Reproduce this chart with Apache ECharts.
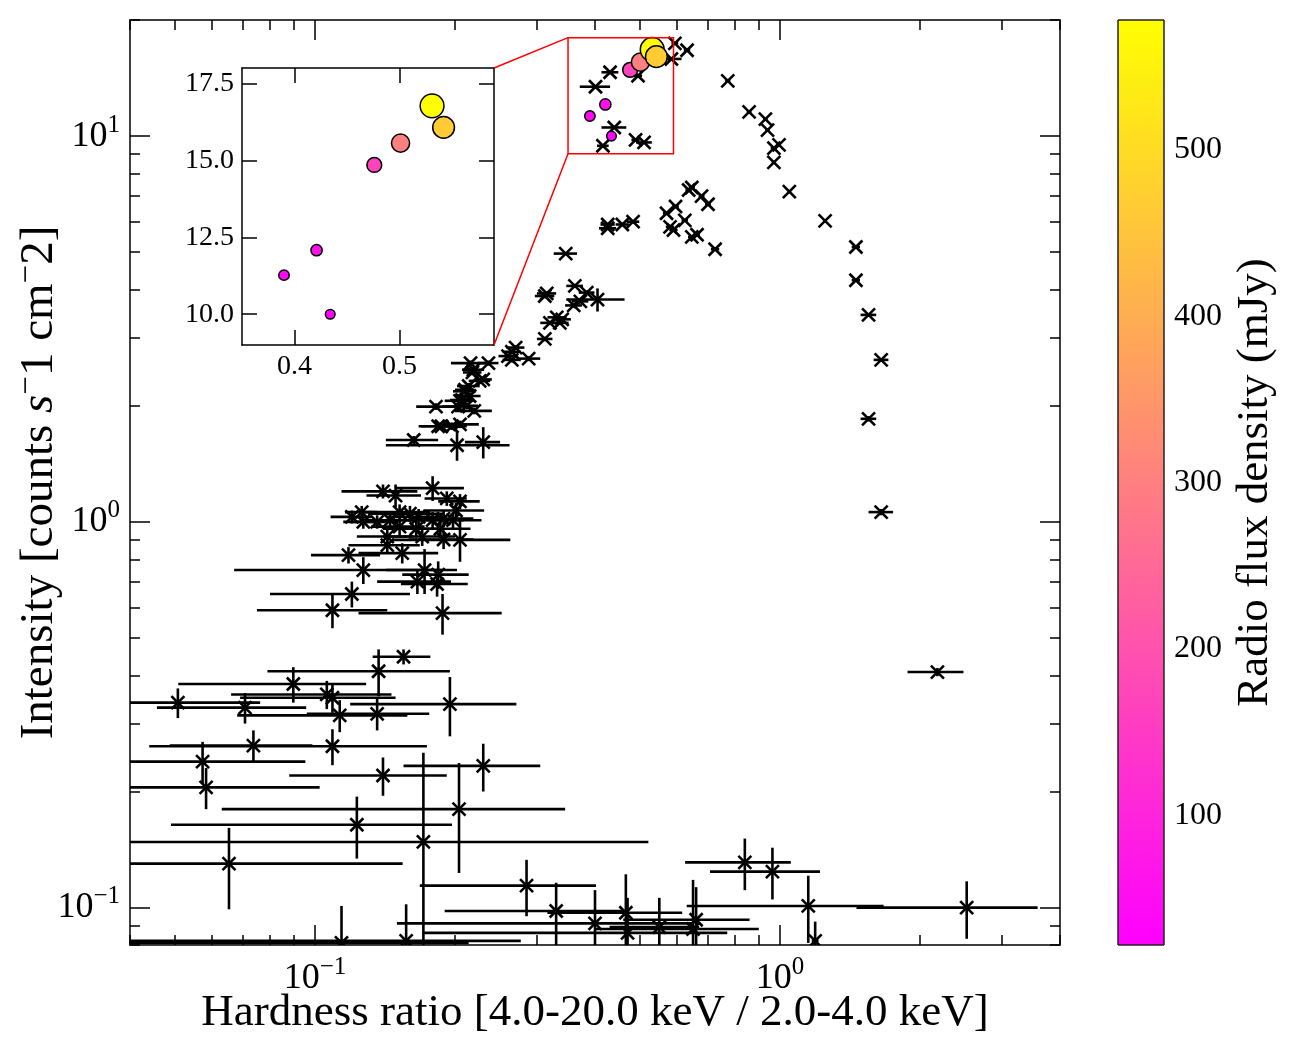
<!DOCTYPE html>
<html>
<head>
<meta charset="utf-8">
<title>Hardness-intensity diagram</title>
<script src="https://cdn.jsdelivr.net/npm/echarts@6/dist/echarts.min.js"></script>
<style>
  html, body { margin: 0; padding: 0; background: #fff; }
  #chart { width: 1291px; height: 1048px; }
</style>
</head>
<body>
<div id="chart"></div>
<script>
// X-ray monitoring points: hardness ratio, intensity and their errors
const xrayHardness = [
  // upper branch
  0.594, 0.631, 0.584, 0.772, 0.858, 0.930, 0.940, 0.970, 0.995, 0.970, 1.047, 1.250, 1.456, 1.456, 1.550, 1.650, 1.550, 1.650, 2.180,
  // zoomed region
  0.431, 0.401, 0.495, 0.440, 0.416, 0.489, 0.510,
  // 5 - 7.5
  0.646, 0.636, 0.678, 0.700, 0.596, 0.570, 0.624, 0.580, 0.590, 0.646, 0.663, 0.725, 0.426, 0.426, 0.458, 0.483,
  // 3 - 5
  0.346, 0.362, 0.384, 0.372, 0.360, 0.405, 0.340, 0.315, 0.312, 0.331, 0.336, 0.320, 0.312,
  // 1.5 - 3
  0.270, 0.265, 0.260, 0.288, 0.236, 0.216, 0.230, 0.219, 0.214, 0.210, 0.215, 0.205, 0.220, 0.182, 0.203, 0.187, 0.197, 0.205, 0.163, 0.202, 0.230, 0.218, 0.226, 0.210, 0.207, 0.212, 0.184, 0.265,
  // 0.6 - 1.2
  0.179, 0.140, 0.149, 0.192, 0.205, 0.126, 0.120, 0.127, 0.136, 0.145, 0.152, 0.160, 0.167, 0.179, 0.189, 0.198, 0.201, 0.152, 0.165, 0.186, 0.143, 0.170, 0.189, 0.205, 0.143, 0.118, 0.154, 0.127, 0.172, 0.166, 0.184, 0.183, 0.120, 0.109, 0.188,
  // faint states
  0.155, 0.137, 0.0898, 0.106, 0.109, 0.0507, 0.0707, 0.113, 0.136, 0.195, 0.0737, 0.109, 0.0573, 0.0583, 0.140, 0.230, 0.204, 0.123, 0.171, 0.0653, 0.285, 0.330, 0.466, 0.550, 0.660, 0.650, 0.840, 0.963, 1.150, 2.520, 0.114, 0.157, 1.190, 0.470, 0.400
]
const xrayIntensity = [
  17.4, 16.7, 15.85, 13.9, 11.56, 11.07, 10.36, 9.31, 9.49, 8.55, 7.18, 6.03, 5.16, 4.23, 3.44, 2.63, 1.85, 1.06, 0.408,
  14.64, 13.43, 14.34, 10.53, 9.44, 9.78, 9.63,
  7.36, 7.25, 6.99, 6.66, 6.57, 6.31, 6.05, 5.82, 5.71, 5.48, 5.55, 5.09, 5.77, 5.90, 5.90, 6.00,
  4.96, 4.09, 3.93, 3.73, 3.64, 3.77, 3.35, 3.91, 3.85, 3.39, 3.28, 3.28, 2.98,
  2.83, 2.76, 2.69, 2.65, 2.58, 2.58, 2.34, 2.48, 2.25, 2.18, 2.12, 2.06, 1.94, 1.99, 1.99, 1.77, 1.77, 1.79, 1.63, 1.58, 1.61, 2.44, 2.32, 2.20, 2.07, 2.00, 1.77, 2.63,
  1.223, 1.20, 1.17, 1.15, 1.13, 1.06, 1.03, 1.00, 1.00, 1.01, 1.06, 1.05, 1.03, 1.01, 1.02, 1.01, 1.07, 0.972, 0.96, 0.96, 0.916, 0.916, 0.90, 0.898, 0.87, 0.82, 0.83, 0.75, 0.75, 0.70, 0.73, 0.69, 0.65, 0.59, 0.58,
  0.447, 0.41, 0.38, 0.357, 0.35, 0.34, 0.33, 0.315, 0.318, 0.337, 0.263, 0.262, 0.239, 0.205, 0.22, 0.233, 0.18, 0.164, 0.148, 0.13, 0.114, 0.098, 0.097, 0.089, 0.093, 0.088, 0.131, 0.124, 0.101, 0.100, 0.081, 0.082, 0.082, 0.086, 0.091
]
const xrayHardnessErr = [
  0.010, 0.010, 0.030, 0.010, 0.010, 0.010, 0.010, 0.015, 0.010, 0.010, 0.010, 0.010, 0.030, 0.030, 0.060, 0.060, 0.060, 0.100, 0.300,
  0.018, 0.030, 0.010, 0.027, 0.012, 0.010, 0.020,
  0.010, 0.010, 0.010, 0.010, 0.010, 0.010, 0.010, 0.012, 0.012, 0.012, 0.010, 0.015, 0.018, 0.015, 0.015, 0.015,
  0.020, 0.015, 0.015, 0.015, 0.015, 0.058, 0.015, 0.015, 0.015, 0.015, 0.015, 0.015, 0.012,
  0.012, 0.012, 0.012, 0.017, 0.012, 0.020, 0.010, 0.012, 0.012, 0.012, 0.012, 0.015, 0.020, 0.017, 0.015, 0.020, 0.015, 0.020, 0.021, 0.060, 0.020, 0.010, 0.012, 0.010, 0.012, 0.012, 0.015, 0.012,
  0.030, 0.026, 0.020, 0.020, 0.021, 0.010, 0.012, 0.012, 0.015, 0.020, 0.025, 0.030, 0.025, 0.030, 0.030, 0.030, 0.030, 0.020, 0.025, 0.030, 0.020, 0.030, 0.030, 0.058, 0.025, 0.020, 0.030, 0.060, 0.030, 0.030, 0.030, 0.030, 0.040, 0.034, 0.064,
  0.022, 0.058, 0.039, 0.040, 0.040, 0.0255, 0.025, 0.045, 0.040, 0.076, 0.025, 0.065, 0.038, 0.044, 0.052, 0.075, 0.141, 0.074, 0.35, 0.089, 0.117, 0.14, 0.15, 0.12, 0.20, 0.25, 0.215, 0.256, 0.52, 1.06, 0.10, 0.12, 0.02, 0.30, 0.25
]
const xrayIntensityErr = [
  0.15, 0.15, 0.15, 0.12, 0.10, 0.10, 0.10, 0.09, 0.09, 0.08, 0.07, 0.06, 0.05, 0.04, 0.04, 0.03, 0.03, 0.02, 0.01,
  0.12, 0.12, 0.12, 0.10, 0.10, 0.10, 0.10,
  0.08, 0.08, 0.07, 0.07, 0.07, 0.07, 0.06, 0.06, 0.06, 0.06, 0.06, 0.05, 0.06, 0.06, 0.06, 0.06,
  0.05, 0.05, 0.05, 0.05, 0.05, 0.26, 0.04, 0.05, 0.05, 0.04, 0.04, 0.04, 0.04,
  0.04, 0.04, 0.04, 0.04, 0.04, 0.04, 0.04, 0.04, 0.04, 0.04, 0.04, 0.04, 0.04, 0.04, 0.04, 0.04, 0.04, 0.04, 0.04, 0.14, 0.15, 0.04, 0.04, 0.04, 0.04, 0.04, 0.04, 0.04,
  0.09, 0.05, 0.08, 0.05, 0.05, 0.04, 0.04, 0.04, 0.04, 0.05, 0.05, 0.05, 0.05, 0.05, 0.05, 0.05, 0.05, 0.05, 0.05, 0.05, 0.05, 0.05, 0.05, 0.11, 0.04, 0.04, 0.05, 0.06, 0.10, 0.05, 0.06, 0.05, 0.05, 0.06, 0.07,
  0.02, 0.057, 0.04, 0.03, 0.03, 0.03, 0.03, 0.03, 0.03, 0.059, 0.025, 0.028, 0.03, 0.025, 0.025, 0.033, 0.057, 0.03, 0.104, 0.031, 0.019, 0.018, 0.025, 0.017, 0.02, 0.03, 0.02, 0.019, 0.02, 0.017, 0.02, 0.02, 0.01, 0.02, 0.02
]

// simultaneous radio detections
const radioHardness = [0.390, 0.421, 0.434, 0.476, 0.501, 0.531, 0.542]
const radioIntensity = [11.27, 12.08, 10.0, 14.85, 15.56, 16.77, 16.07]
const radioFlux = [40, 60, 22, 170, 300, 578, 467]

// axes
const xRange = [0.04, 4]
const yRange = [0.08, 20]
const xMajor = [0.1, 1]
const yMajor = [0.1, 1, 10]
const zoomX = [0.35, 0.59]
const zoomY = [9, 18]
const zoomXTicks = [0.4, 0.5]
const zoomYTicks = [10, 12.5, 15, 17.5]
const fluxRange = [22, 578]
const fluxTicks = [100, 200, 300, 400, 500]

const FONT = '"Liberation Serif", "Times New Roman", serif'
const INK = '#000'
const MAJOR = 20
const MINOR = 10

function minorTicks (range) {
  const out = []
  for (let d = -3; d <= 3; d++) {
    for (let k = 2; k <= 9; k++) {
      const v = Number((k * Math.pow(10, d)).toPrecision(3))
      if (v >= range[0] && v <= range[1]) out.push(v)
    }
  }
  return out
}

function powerLabel (v) {
  const p = Math.round(Math.log10(v))
  return '{b|10}{s|' + (p < 0 ? '\u2212' + (-p) : p) + '}'
}

const powerRich = {
  b: { fontFamily: FONT, fontSize: 36, color: INK },
  s: { fontFamily: FONT, fontSize: 25, color: INK, padding: [0, 0, 22, 0] }
}
const tickLine = { color: INK, width: 1.5 }

function mainAxis (position, range, ticks, len, withLabel) {
  return {
    type: 'log',
    logBase: 10,
    gridIndex: 0,
    position,
    min: range[0],
    max: range[1],
    axisLine: { show: len === MAJOR, onZero: false, lineStyle: tickLine },
    axisTick: { show: true, inside: true, length: len, customValues: ticks, lineStyle: tickLine },
    axisLabel: withLabel
      ? { customValues: ticks, formatter: powerLabel, rich: powerRich, margin: 10 }
      : { show: false },
    splitLine: { show: false }
  }
}

function insetAxis (position, range, ticks, withLabel) {
  return {
    type: 'value',
    gridIndex: 1,
    position,
    min: range[0],
    max: range[1],
    axisLine: { show: true, onZero: false, lineStyle: tickLine },
    axisTick: { show: true, inside: true, length: 15, customValues: ticks, lineStyle: tickLine },
    axisLabel: withLabel
      ? { customValues: ticks, formatter: v => v.toFixed(1), fontFamily: FONT, fontSize: 28, color: INK, margin: 8 }
      : { show: false },
    splitLine: { show: false }
  }
}

function titleStyle (size) {
  return {
    fontFamily: FONT,
    fontSize: size,
    color: INK,
    rich: {
      it: { fontFamily: FONT, fontSize: size, fontStyle: 'italic', color: INK },
      sup: { fontFamily: FONT, fontSize: Math.round(size * 0.7), color: INK, padding: [0, 0, 24, 0] }
    }
  }
}

function radioSize (flux) {
  return Math.sqrt(75 + 0.85 * flux)
}

// error bars in both directions plus an 'x' marker
function drawErrorCross (params, api) {
  const x = api.value(0)
  const y = api.value(1)
  const ex = api.value(2)
  const ey = api.value(3)
  const c = api.coord([x, y])
  const l = api.coord([Math.max(x - ex, 1e-4), y])
  const r = api.coord([x + ex, y])
  const t = api.coord([x, y + ey])
  const b = api.coord([x, Math.max(y - ey, 1e-4)])
  const m = 6.5
  const s = { stroke: INK, lineWidth: 2.6 }
  return {
    type: 'group',
    children: [
      { type: 'line', shape: { x1: l[0], y1: c[1], x2: r[0], y2: c[1] }, style: s },
      { type: 'line', shape: { x1: c[0], y1: t[1], x2: c[0], y2: b[1] }, style: s },
      { type: 'line', shape: { x1: c[0] - m, y1: c[1] - m, x2: c[0] + m, y2: c[1] + m }, style: s },
      { type: 'line', shape: { x1: c[0] - m, y1: c[1] + m, x2: c[0] + m, y2: c[1] - m }, style: s }
    ]
  }
}

const xrayData = xrayHardness.map((h, i) => [h, xrayIntensity[i], xrayHardnessErr[i], xrayIntensityErr[i]])
const radioData = radioHardness.map((h, i) => [h, radioIntensity[i], radioFlux[i]])

const option = {
  animation: false,
  backgroundColor: '#fff',
  grid: [
    { left: 130, top: 20, width: 930, height: 925, containLabel: false, outerBoundsMode: 'none' },
    { left: 242, top: 68, width: 252, height: 277, containLabel: false, outerBoundsMode: 'none', show: true, backgroundColor: '#fff', borderWidth: 0 },
    { left: 1118, top: 20, width: 46, height: 925, containLabel: false, outerBoundsMode: 'none' }
  ],
  visualMap: {
    type: 'continuous',
    show: false,
    min: fluxRange[0],
    max: fluxRange[1],
    dimension: 2,
    seriesIndex: [1, 2],
    inRange: { color: ['#ff00ff', '#ffff00'] }
  },
  xAxis: [
    Object.assign(mainAxis('bottom', xRange, xMajor, MAJOR, true), {
      name: 'Hardness ratio [4.0-20.0 keV / 2.0-4.0 keV]',
      nameLocation: 'middle',
      nameGap: 46,
      nameMoveOverlap: false,
      nameTextStyle: titleStyle(45)
    }),
    mainAxis('top', xRange, xMajor, MAJOR, false),
    mainAxis('bottom', xRange, minorTicks(xRange), MINOR, false),
    mainAxis('top', xRange, minorTicks(xRange), MINOR, false),
    insetAxis('bottom', zoomX, zoomXTicks, true),
    insetAxis('top', zoomX, zoomXTicks, false),
    { type: 'value', gridIndex: 2, min: 0, max: 1, show: false }
  ],
  yAxis: [
    Object.assign(mainAxis('left', yRange, yMajor, MAJOR, true), {
      name: 'Intensity [counts {it|s}{sup|\u2212}1 cm{sup|\u2212}2]',
      nameLocation: 'middle',
      nameRotate: 90,
      nameGap: 62,
      nameMoveOverlap: false,
      nameTextStyle: titleStyle(47)
    }),
    mainAxis('right', yRange, yMajor, MAJOR, false),
    mainAxis('left', yRange, minorTicks(yRange), MINOR, false),
    mainAxis('right', yRange, minorTicks(yRange), MINOR, false),
    insetAxis('left', zoomY, zoomYTicks, true),
    insetAxis('right', zoomY, zoomYTicks, false),
    {
      type: 'value',
      gridIndex: 2,
      position: 'right',
      min: fluxRange[0],
      max: fluxRange[1],
      axisLine: { show: false },
      axisTick: { show: true, inside: false, length: 7, customValues: fluxTicks, lineStyle: tickLine },
      axisLabel: { customValues: fluxTicks, fontFamily: FONT, fontSize: 32, color: INK, margin: 10 },
      splitLine: { show: false },
      name: 'Radio flux density (mJy)',
      nameLocation: 'middle',
      nameRotate: 90,
      nameGap: 69,
      nameMoveOverlap: false,
      nameTextStyle: titleStyle(45)
    }
  ],
  series: [
    {
      type: 'custom',
      xAxisIndex: 0,
      yAxisIndex: 0,
      clip: true,
      silent: true,
      data: xrayData,
      renderItem: drawErrorCross
    },
    {
      type: 'scatter',
      xAxisIndex: 0,
      yAxisIndex: 0,
      data: radioData,
      symbolSize: v => radioSize(v[2]),
      itemStyle: { borderColor: INK, borderWidth: 1.5, opacity: 1 },
      z: 4
    },
    {
      type: 'scatter',
      xAxisIndex: 4,
      yAxisIndex: 4,
      data: radioData,
      symbolSize: v => radioSize(v[2]),
      itemStyle: { borderColor: INK, borderWidth: 1.5, opacity: 1 },
      z: 4
    },
    {
      type: 'custom',
      xAxisIndex: 6,
      yAxisIndex: 6,
      silent: true,
      data: [[0, fluxRange[0], 1, fluxRange[1]]],
      renderItem (params, api) {
        const p0 = api.coord([api.value(0), api.value(1)])
        const p1 = api.coord([api.value(2), api.value(3)])
        return {
          type: 'rect',
          shape: { x: p0[0], y: p1[1], width: p1[0] - p0[0], height: p0[1] - p1[1] },
          style: {
            fill: new echarts.graphic.LinearGradient(0, 1, 0, 0, [
              { offset: 0, color: '#ff00ff' },
              { offset: 1, color: '#ffff00' }
            ]),
            stroke: '#222',
            lineWidth: 1
          }
        }
      }
    }
  ]
}

const chart = echarts.init(document.getElementById('chart'))
chart.setOption(option)

// zoom box on the main axes and its connectors to the inset
const px = (ax, v) => chart.convertToPixel({ xAxisIndex: ax }, v)
const py = (ax, v) => chart.convertToPixel({ yAxisIndex: ax }, v)
const bx0 = px(0, zoomX[0])
const bx1 = px(0, zoomX[1])
const by0 = py(0, zoomY[0])
const by1 = py(0, zoomY[1])
const ix1 = px(4, zoomX[1])
const iy0 = py(4, zoomY[0])
const iy1 = py(4, zoomY[1])
const red = { stroke: '#ff0000', lineWidth: 1.5, fill: null }
chart.setOption({
  graphic: [
    { type: 'rect', z: 10, shape: { x: bx0, y: by1, width: bx1 - bx0, height: by0 - by1 }, style: red },
    { type: 'line', z: 10, shape: { x1: bx0, y1: by1, x2: ix1, y2: iy1 }, style: red },
    { type: 'line', z: 10, shape: { x1: bx0, y1: by0, x2: ix1, y2: iy0 }, style: red }
  ]
})
</script>
</body>
</html>
